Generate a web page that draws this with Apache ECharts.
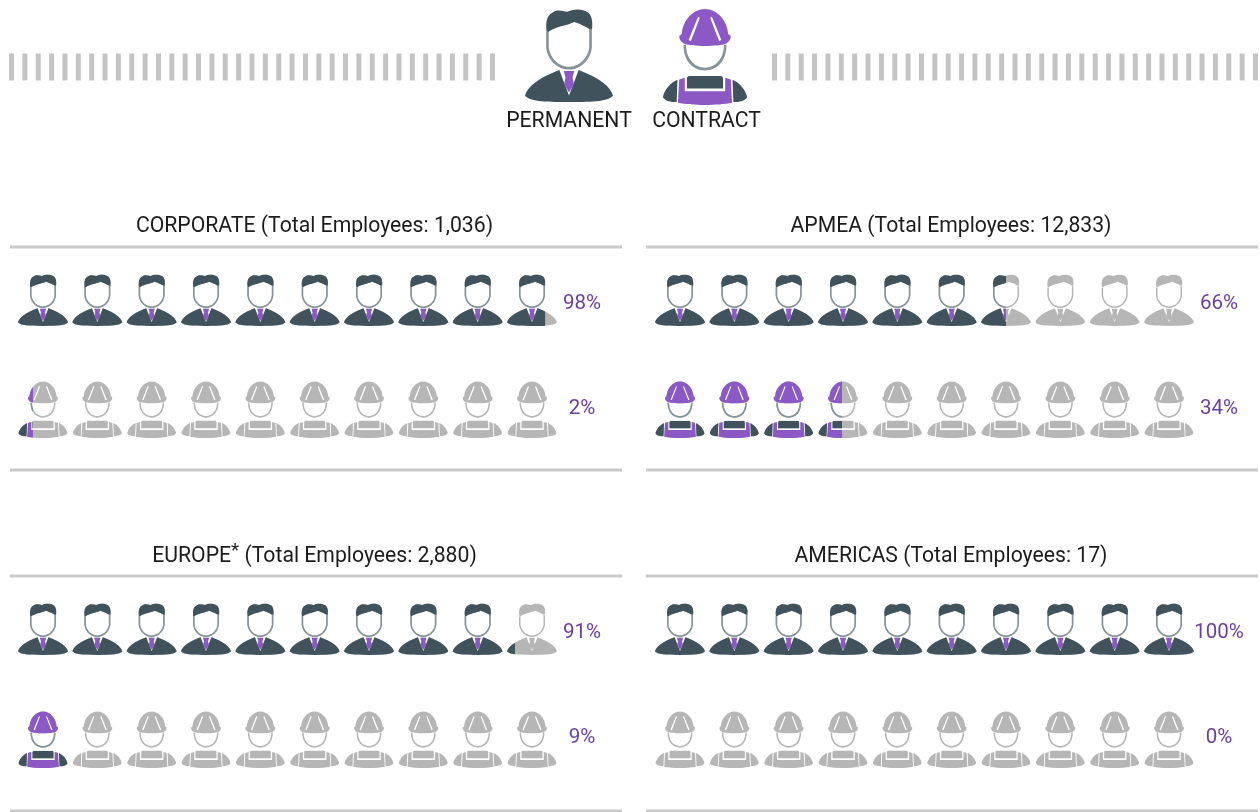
<!DOCTYPE html>
<html>
<head>
<meta charset="utf-8">
<style>html,body{margin:0;padding:0;background:#fff}#chart{width:1260px;height:812px}</style>
<script src="https://cdn.jsdelivr.net/npm/echarts@6/dist/echarts.min.js"></script>
</head>
<body>
<div id="chart"></div>
<script>
// ----- data -----
const regions = ['CORPORATE', 'APMEA', 'EUROPE', 'AMERICAS'];
const totalEmployees = ['1,036', '12,833', '2,880', '17'];
const permanentLabels = ['98%', '66%', '91%', '100%'];
const contractLabels = ['2%', '34%', '9%', '0%'];
// share of the icon strip that is drawn in colour
const permanentDrawn = [97.8, 65.1, 92.2, 100];
const contractDrawn = [2.8, 34.7, 9.3, 0];
const legendLabels = ['PERMANENT', 'CONTRACT'];
const dashCount = [37, 37];

// ----- colours -----
const DARK = '#40535c', PURPLE = '#8c58c6', GREY = '#b6b6b6', RING = '#86949a', TEXT = '#1c1c1c', PCT = '#6b3fa2', RULE = '#c9c9c9';

// ----- icon parts in a shared 0..100 box (corner points keep the boxes equal) -----
const BOX = 'M0 0L0 0M100 100L100 100';
const pHair = 'M25 27C23 18 24 8 31 5C36 1 42 3 48 4C54 1 65 0 72 5C77 9 77 18 76 24C70 21 66 18 56 15C48 19 32 20 25 27Z';
const pBody = 'M0 93C3 84 14 75 39 66L50 93L61 66C86 75 97 84 100 93C95 99 80 100 50 100C20 100 5 99 0 93Z';
const pTie = 'M44 67L56 67L54 74L55.5 81L50 90L44.5 81L46 74Z';
const pRing = 'M24 25L24 42C26 56 37 65.5 50 65.5C63 65.5 74 56 76 42L76 22L73 22L73 42C71.5 54 61 62.5 50 62.5C39 62.5 28.5 54 27 42L27 25Z';
const wHelmet = 'M50 1C64 1 76 13 77 27L80 29C80 33 78 35 74 37C66 40 34 40 26 37C22 35 20 33 20 29L23 27C24 13 36 1 50 1Z' +
  'M42 9L36 22L31 33L33.5 34L38.5 23L44 10ZM56 10L61.5 23L66.5 34L69 33L64 22L58 9Z';
const wRing = 'M25 38C25 55 36 64.5 50 64.5C64 64.5 75 55 75 38L72 38C72 53 62 61.5 50 61.5C38 61.5 28 53 28 38Z';
const wShoulders = 'M1 92C3 84 10 77 18 74L17 97C10 97 4 96 1 92ZM99 92C96 96 90 97 83 97L82 74C90 77 97 84 99 92Z';
const wBib = 'M29 73C29 71 30 70 32 70L68 70C70 70 71 71 71 73L71 83L29 83Z';
const wApron = 'M20 74L26.5 72L26.5 86L73.5 86L73.5 72L80 74L81.5 98C65 101 35 101 18.5 98Z';

const sym = (...parts) => 'path://' + BOX + parts.join('');
const personLayers = [
  { color: DARK, path: sym(pHair, pBody) },
  { color: PURPLE, path: sym(pTie) },
  { color: RING, path: sym(pRing) }
];
const workerLayers = [
  { color: PURPLE, path: sym(wHelmet, wApron) },
  { color: DARK, path: sym(wShoulders, wBib) },
  { color: RING, path: sym(wRing) }
];
const personGrey = sym(pHair, pBody, pTie, pRing);
const workerGrey = sym(wHelmet, wApron, wShoulders, wBib, wRing);

// ----- layout -----
const panelX = [18, 655, 18, 655];
const titleCX = [314.5, 951, 314.5, 951];
const titleY = [227, 227, 557, 557];
const rowY = [[274, 381], [274, 381], [603, 711], [603, 711]];
const ruleX = [10, 646, 10, 646];
const ruleY = [[247, 470], [247, 470], [576, 811], [576, 811]];
const labelShift = [[4, -1], [4, -1], [4, -2], [4, -2]];
const STRIP_W = 539;

const grids = [], xAxes = [], yAxes = [], series = [], titles = [], graphics = [];

function addGrid(left, top, width, height, max, label, shift) {
  const i = grids.length;
  grids.push({ left, top, width, height, containLabel: false });
  xAxes.push({ gridIndex: i, type: 'value', min: 0, max, show: false });
  const s = shift || 0;
  yAxes.push({
    gridIndex: i, type: 'category', position: 'right', data: [label || ''],
    axisLine: { show: false }, axisTick: { show: false }, splitLine: { show: false },
    axisLabel: {
      show: !!label, margin: 25, align: 'center',
      formatter: v => '{p|' + v + '}',
      rich: { p: {
        color: PCT, fontFamily: 'Roboto', fontSize: 20.5, align: 'center',
        padding: s >= 0 ? [2 * s, 0, 0, 0] : [0, 0, -2 * s, 0]
      } }
    }
  });
  return i;
}

function addStrip(left, top, h, greyPath, layers, value, label, name, shift) {
  const i = addGrid(left, top, STRIP_W, h, 100, label, shift);
  const base = {
    type: 'pictorialBar', xAxisIndex: i, yAxisIndex: i, symbolRepeat: 10, symbolSize: [50, h],
    symbolBoundingData: 100, silent: true, animation: false, name
  };
  series.push(Object.assign({}, base, { symbol: greyPath, itemStyle: { color: GREY }, data: [100], z: 2 }));
  layers.forEach((l, k) => series.push(Object.assign({}, base, {
    symbol: l.path, symbolClip: true, itemStyle: { color: l.color }, data: [value], z: 3 + k
  })));
}

regions.forEach((r, idx) => {
  addStrip(panelX[idx], rowY[idx][0], 52, personGrey, personLayers, permanentDrawn[idx], permanentLabels[idx], r + ' permanent', labelShift[idx][0]);
  addStrip(panelX[idx], rowY[idx][1], 57, workerGrey, workerLayers, contractDrawn[idx], contractLabels[idx], r + ' contract', labelShift[idx][1]);
  const head = r === 'EUROPE' ? r + '{sup|*}' : r;
  titles.push({
    text: head + ' (Total Employees: ' + totalEmployees[idx] + ')',
    left: titleCX[idx], top: titleY[idx] - 12, padding: 0, textAlign: 'center',
    textStyle: {
      color: TEXT, fontFamily: 'Roboto', fontSize: 21.2, fontWeight: 'normal', lineHeight: 24,
      rich: { sup: { color: TEXT, fontFamily: 'Roboto', fontSize: 19, padding: [0, 0, 12, 0] } }
    }
  });
  ruleY[idx].forEach(y => graphics.push({
    type: 'rect', shape: { x: ruleX[idx], y: y - 1.5, width: 612, height: 3 }, style: { fill: RULE }, silent: true
  }));
});

// legend icons
[[525, 8, 88, 94, personLayers], [662, 8, 86, 97, workerLayers]].forEach(([x, y, w, h, layers], k) => {
  const i = addGrid(x, y, w, h, 1);
  layers.forEach((l, j) => series.push({
    type: 'pictorialBar', xAxisIndex: i, yAxisIndex: i, symbol: l.path, symbolSize: [w, h], symbolPosition: 'start',
    itemStyle: { color: l.color }, data: [1], z: 3 + j, silent: true, animation: false, name: legendLabels[k]
  }));
  titles.push({
    text: legendLabels[k], left: [569, 706.5][k], top: 110, padding: 0, textAlign: 'center',
    textStyle: { color: TEXT, fontFamily: 'Roboto', fontSize: 21.2, fontWeight: 'normal', lineHeight: 24 }
  });
});

// dashed bands beside the legend
[9, 772].forEach((x, k) => {
  const i = addGrid(x, 53.5, 486, 27, dashCount[k]);
  series.push({
    type: 'pictorialBar', xAxisIndex: i, yAxisIndex: i, symbol: 'rect', symbolSize: [5, 27], symbolRepeat: dashCount[k],
    symbolBoundingData: dashCount[k], itemStyle: { color: '#c4c4c4' }, data: [dashCount[k]], silent: true, animation: false
  });
});

const chart = echarts.init(document.getElementById('chart'), null, { renderer: 'canvas' });
chart.setOption({
  animation: false, backgroundColor: '#ffffff', tooltip: { show: false },
  title: titles, grid: grids, xAxis: xAxes, yAxis: yAxes, series, graphic: graphics
});
</script>
</body>
</html>
